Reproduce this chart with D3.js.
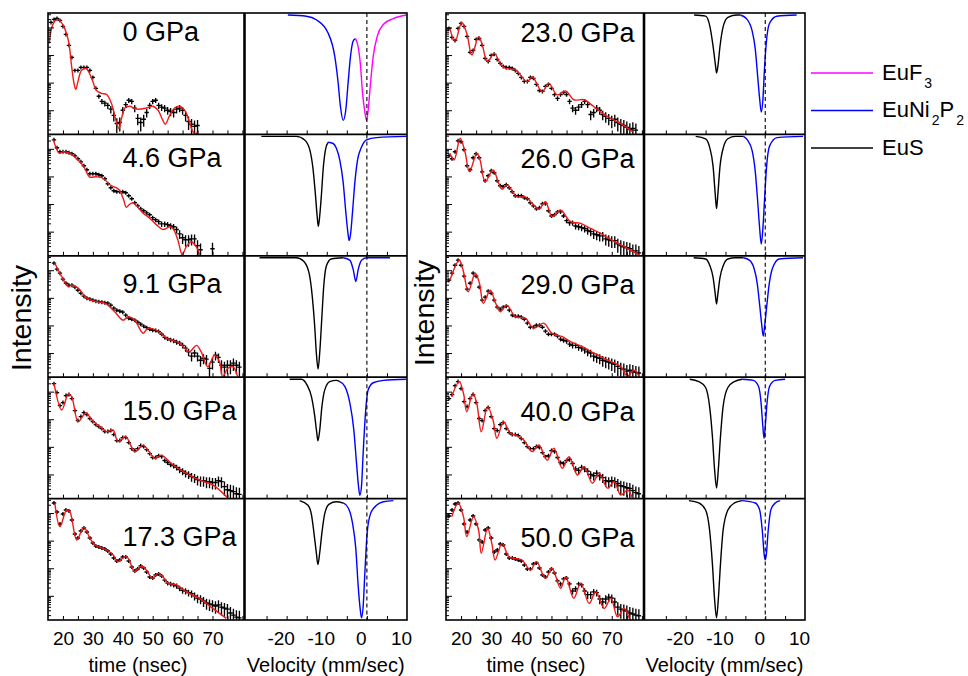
<!DOCTYPE html>
<html>
<head>
<meta charset="utf-8">
<script src="https://cdn.jsdelivr.net/npm/d3@7"></script>
<style>
  body { margin: 0; background: #fff; }
  svg text { font-family: "Liberation Sans", Arial, Helvetica, sans-serif; fill: #000; }
</style>
</head>
<body>
<svg id="chart" width="968" height="676"></svg>
<script>
// ---------- data ----------
const pressureLabels = ["0 GPa", "4.6 GPa", "9.1 GPa", "15.0 GPa", "17.3 GPa",
                        "23.0 GPa", "26.0 GPa", "29.0 GPa", "40.0 GPa", "50.0 GPa"];
const timeTicks = [20, 30, 40, 50, 60, 70];
const velocityTicks = [-20, -10, 0, 10];
const siteNames = ["EuF3", "EuNi2P2", "EuS"];

// Time spectra: delayed counts in 1 ns bins, first bin time (ns) per pressure
const countsStart = [16, 17, 17, 17, 17, 16, 16, 16, 16, 16];
const counts = [
  [15200,19500,21200,18000,10900,5590,2240,822,278,278,357,357,357,278,155,62,32,21,18,15,11,6.5,3.3,3.6,10,16,23,21,12,5.1,3.6,4.7,8.3,15,21,23,15,13,12,10,9,8.3,11,12,10,6.5,3.9,3.1,2.6,2.8],
  [21200,10900,7810,7810,7810,7180,6610,5590,4360,3390,2430,1740,1250,1250,1250,1150,1060,822,542,388,302,278,278,278,256,199,155,111,86,67,57,48,41,32,27,23,19,19,18,16,15,12,8.3,6,5.1,5.1,5.5,5.5,3.1,2.2,null,null,null,2.4],
  [18000,10900,7810,4740,3390,2870,2870,2430,1890,1470,1150,971,893,822,756,725,695,667,640,542,422,357,328,302,235,183,168,155,131,111,94,83,73,67,65,60,48,37,33,30,28,25,23,19,15,11,7.7,10,7.7,5.5,6.5,6,2.8,4.7,8.3,7,3.6,3.1,3.6,3.6,4.3,3.6,3.1],
  [19500,9230,3120,4010,7180,7810,5590,2060,893,1250,1740,1470,1060,822,640,542,458,357,357,388,278,168,168,216,216,143,86,73,86,111,102,79,57,41,41,48,44,32,27,23,21,18,15,13,11,10,8.3,7.7,6.5,6,6,5.5,5.5,5.1,5.1,6,5.5,3.6,2.8,2.6,2.4,2.0,1.9],
  [23100,10900,4010,9230,12900,11900,5590,1740,1250,2240,2870,2060,1250,822,640,589,542,498,422,328,235,183,199,256,256,183,111,79,94,121,102,73,48,44,57,62,52,37,29,27,25,23,19,16,15,13,12,10,8.3,7.7,6.5,5.5,5.1,4.7,4.3,4.7,3.9,3.6,3.3,2.4,2.0,1.7,1.6],
  [9230,4360,3390,9230,14000,10900,4740,1250,1470,3690,4010,2240,756,589,971,1060,695,498,388,357,357,328,278,216,155,111,111,155,143,86,52,48,73,86,62,37,27,37,44,37,21,12,10,13,16,21,16,7,8.3,12,10,7,6,5.1,4.3,4.7,3.6,3.1,2.8,2.4,2.0,2.2,1.9],
  [5590,4360,7810,19500,18000,9230,2430,1740,4740,6610,4740,1470,695,1060,1600,1360,695,458,422,498,388,278,199,199,199,168,155,111,86,67,73,102,102,57,37,41,52,52,37,25,21,21,16,15,14,13,11,10,8.3,7.7,7,7,5.5,5.1,4.7,4.7,3.6,3.1,2.8,2.6,2.4,2.0,2.0,1.7],
  [4360,7810,15200,23100,15200,6080,2060,3390,7810,6080,2430,822,1060,1740,1470,822,458,388,458,498,357,235,216,216,199,168,121,86,86,102,102,86,62,48,48,48,41,32,29,27,21,19,19,16,15,13,11,10,7.7,7,6.5,5.5,5.1,4.7,4.3,3.9,3.3,2.8,2.6,2.2,2.4,2.2,2.0,1.9],
  [5590,7810,16500,23100,12900,4360,2870,5590,7810,4010,1060,893,2060,2640,1250,458,388,640,756,458,328,278,278,256,199,143,102,86,86,102,94,62,44,48,73,67,41,27,25,32,35,25,16,14,18,16,13,10,9,11,9,7.7,6,5.5,6,5.5,4.7,3.9,3.6,3.3,3.1,2.6,2.2,2.0],
  [7810,12900,21200,23100,12900,4010,2060,5590,7810,4010,1060,893,2430,2870,1250,388,458,756,695,328,235,235,216,199,183,131,94,94,143,155,102,57,48,73,94,67,35,27,41,44,27,15,18,27,25,15,11,11,14,13,7.7,6,7.7,9,8.3,6,3.9,3.3,3.1,2.8,2.4,2.2,2.0,1.9]
];

// Fitted time spectra: vertices (time in ns, intensity)
const fitTime = [
  [15.4,16.8,18.4,20.1,21.8,22.9,23.7,24.3,25.1,26.2,27.7,29.6,31.2,32.9,34.6,36.2,37.7,38.7,39.6,40.7,42.3,44.6,47.9,50.1,51.8,53.4,54.2,55.7,57.3,59,60.7,62.1,63.4,64.3,65.1],
  [16.8,18.8,20.1,22.3,25.7,27.3,28.8,31.2,33.4,35.7,38.4,39.2,40.3,41.2,42.1,43.4,45.1,46.8,48.4,51.2,53.4,55.7,56.8,58.4,59.9,61.2,62.9,64.6,65.7],
  [17.3,19.6,21.8,22.9,25.1,27.9,31.2,34,37.3,40.1,41.8,44,46.8,48.4,51.2,54.6,59,62.3,64.6,66.2,68.4,70.7,72.3,73.4,75.1,76.8,78.4],
  [17,19.6,21.8,22.9,25.1,27.7,29.6,32.3,34.6,36.8,38.4,41,44,46.8,48.4,50.7,52.9,56.8,61.2,65.7,70.1,75.1],
  [17.3,19,21.2,22.3,24.6,27,29,30.7,34.6,36.8,38.4,40.7,41.8,44,46.2,47.9,49.9,51.8,53.4,55.1,57.9,61.2,65.7,70.1,74.6],
  [16.3,18,20.2,21.9,23.6,25.8,26.9,28.8,31,33,34.7,38,41.9,43.6,46.9,49.1,51.9,54.7,57.4,60.8,64.1,68.6,73,76.9],
  [16.3,17.7,19.7,21.3,22.8,25.2,26.3,28,30.6,32.5,33.6,35.2,38.6,41.3,44.1,45.8,48,50.2,53,56.3,59.7,63,66.3,70.8,75.2,79.1],
  [16.3,19.4,20.8,22.4,24.7,26.1,27.4,29.7,31.3,33,35.2,38,41.3,44.1,47.4,50.2,53.6,56.3,60.2,64.1,68.6,73,75.2,77.4,79.1],
  [16.9,19.4,20.8,21.9,23.9,25.2,26.7,28.8,30.6,31.9,34.1,36.3,38,40.8,43.6,45.8,48.6,50.8,53.6,55.8,58.6,60.8,63.6,65.8,68.6,70.8,73,75.2,76.9],
  [16.9,19.1,20.8,21.9,24.1,25.8,26.7,28.8,30.2,31.3,33.6,35.8,37.4,40.2,43,45,48,50.2,53,54.7,57.4,59.7,62.5,64.7,67.5,69.7,71.9,74.1,75.8]
];
const fitIntensity = [
  [2640,14000,19500,11850,3390,388,94,57,121,278,328,143,52,41,37,18,4.3,2.2,5.1,12,14,11,12,14,10,4.3,3.1,6.5,12,14,10,4.3,1.7,1.35,1.7],
  [21200,6900,7810,6900,3390,1970,971,971,860,498,357,278,143,76,94,111,76,46,35,18,12,15,13,5.1,1.45,2.8,4.3,2.8,1.45],
  [18000,5830,2530,2870,2240,971,725,640,315,155,207,155,52,79,67,35,23,11.2,19,11.2,3.2,8.3,4.9,1.4,2.8,3.2,1.4],
  [20000,2170,8200,6610,822,1740,935,542,357,405,155,235,67,115,76,38,50,22,11,6.2,4.2,1.4],
  [22500,3220,12900,11200,1060,3070,1220,695,458,302,173,263,229,75,121,86,43,65,49,29,25,14,8.1,3.5,1.53],
  [9230,3070,14800,6080,1000,4580,2640,574,1150,498,328,288,108,164,47,94,36,50,24,24,13.4,5.8,3.3,1.67],
  [6900,3940,24100,7810,1470,6900,3940,640,1710,565,342,488,183,183,92,65,121,35,61,23,20,13,8.7,4.4,2.5,1.42],
  [4360,23100,8850,1670,7810,3390,640,1890,725,315,542,207,183,79,121,51,39,26,17,9.9,5.6,3.2,1.47,2.4,1.39],
  [6550,23100,8720,1870,8720,3800,354,2870,935,205,815,310,270,178,67,116,33,89,16.7,44,9.6,19,4.8,11,3.2,5.5,1.8,2.7,1.37],
  [7370,22500,7370,1400,7370,2430,348,2800,800,199,800,263,229,199,86,173,43,100,18.8,49,8.1,29,5.3,14,3.5,8.1,1.75,3.5,1.53]
];

// Energy-domain spectra: one segment per Eu site (velocity mm/s, relative transmission)
const spectrumSites = [
  ["EuNi2P2", "EuF3"],
  ["EuS", "EuNi2P2"], ["EuS", "EuNi2P2"], ["EuS", "EuNi2P2"], ["EuS", "EuNi2P2"],
  ["EuS", "EuNi2P2"], ["EuS", "EuNi2P2"], ["EuS", "EuNi2P2"], ["EuS", "EuNi2P2"], ["EuS", "EuNi2P2"]
];
const spectrumVelocity = [
  [[-19.7,-15.1,-12.6,-9.7,-8.0,-7.17,-6.6,-5.9,-5.25,-4.67,-4.08,-3.42,-2.83],
   [-2.83,-2.17,-1.58,-1.08,-0.5,-0.08,0.33,0.92,1.58,2.58,4.08,6.58,9.9]],
  [[-26.3,-17.6,-15.5,-14.25,-13.4,-12.8,-12.4,-12.1,-11.75,-11.3,-10.9,-10.3,-9.67],
   [-9.67,-8.4,-7.6,-6.75,-5.9,-5.25,-4.67,-4.42,-4.08,-3.58,-3.0,-2.33,-1.33,-0.08,2.4,9.9]],
  [[-26.75,-17.6,-15.75,-14.4,-13.6,-13.0,-12.6,-12.17,-11.75,-11.25,-10.75,-10.1,-8.9,-5.9],
   [-5.9,-4.25,-3.4,-2.75,-2.17,-1.33,-0.08,5.75]],
  [[-19.25,-16.3,-14.9,-13.8,-13.0,-12.5,-12.2,-11.75,-11.2,-10.5,-9.25,-7.6,-6.75],
   [-6.75,-5.5,-4.25,-3.25,-2.6,-2.1,-1.75,-1.33,-0.92,-0.33,0.33,1.58,4.1,9.75]],
  [[-16.75,-14.67,-13.8,-13.2,-12.6,-12.2,-11.75,-11.2,-10.5,-9.4,-7.6,-5.9],
   [-5.9,-4.67,-3.58,-2.75,-2.17,-1.58,-1.33,-0.92,-0.5,0.08,0.92,2.4,4.1,6.6]],
  [[-17.9,-15,-13.9,-13.1,-12.5,-12.25,-11.9,-11.4,-10.6,-9.4,-7.1,-6.25],
   [-6.25,-4.75,-3.33,-2.5,-1.9,-1.4,-1.0,-0.58,-0.25,0.25,1.08,2.9,7.9]],
  [[-17.5,-15,-14,-13.1,-12.6,-12.25,-11.9,-11.4,-10.5,-9.4,-7.5,-5.5],
   [-5.5,-4.5,-3.3,-2.5,-1.9,-1.4,-1.0,-0.6,-0.2,0.3,1.1,3,9.5]],
  [[-18,-15,-14,-13.1,-12.6,-12.25,-11.9,-11.4,-10.5,-9.4,-7.5,-5.5],
   [-5.5,-4,-2.8,-2.0,-1.4,-0.9,-0.5,-0.1,0.4,1.0,1.8,3.5,9.5]],
  [[-19,-16.7,-15,-14,-13.3,-12.75,-12.25,-11.8,-11.25,-10.6,-9.4,-7.75,-5.8],
   [-5.8,-3,-1.7,-1.05,-0.6,-0.3,0,0.45,1.1,2.5,5]],
  [[-19.2,-16.7,-15,-14,-13.3,-12.75,-12.25,-11.8,-11.25,-10.6,-9.4,-7.75,-5.8],
   [-5.8,-2.5,-1.4,-0.75,-0.25,0,0.25,0.75,1.4,2.5,3.75]]
];
const spectrumTransmission = [
  [[1.00,0.99,0.96,0.85,0.65,0.43,0.23,0.11,0.20,0.43,0.65,0.78,0.80],
   [0.80,0.73,0.57,0.34,0.18,0.11,0.20,0.43,0.65,0.82,0.92,0.97,1.00]],
  [[1.0,1.0,0.97,0.89,0.72,0.50,0.33,0.24,0.33,0.52,0.72,0.89,0.95],
   [0.95,0.94,0.90,0.80,0.61,0.36,0.17,0.12,0.17,0.36,0.61,0.80,0.91,0.97,0.99,1.0]],
  [[1.0,1.0,0.97,0.87,0.67,0.42,0.20,0.06,0.20,0.48,0.76,0.93,0.99,1.0],
   [1.0,0.98,0.90,0.80,0.90,0.98,1.0,1.0]],
  [[1.0,1.0,0.95,0.85,0.69,0.55,0.48,0.57,0.77,0.91,0.98,0.99,0.98],
   [0.98,0.94,0.80,0.57,0.30,0.10,0.02,0.10,0.38,0.72,0.91,0.97,0.99,1.0]],
  [[1.0,0.96,0.88,0.73,0.56,0.46,0.56,0.73,0.89,0.97,0.99,0.98],
   [0.98,0.94,0.81,0.59,0.28,0.06,0.01,0.11,0.39,0.73,0.89,0.96,0.99,1.0]],
  [[1.0,0.99,0.90,0.73,0.57,0.51,0.57,0.73,0.90,0.98,1.0,1.0],
   [1.0,0.97,0.87,0.71,0.48,0.29,0.18,0.29,0.51,0.76,0.93,0.99,1.0]],
  [[1.0,0.98,0.91,0.74,0.52,0.39,0.52,0.74,0.91,0.98,1.0,1.0],
   [1.0,0.97,0.88,0.70,0.45,0.22,0.09,0.22,0.45,0.73,0.92,0.99,1.0]],
  [[1.0,0.99,0.94,0.83,0.70,0.61,0.70,0.83,0.94,0.99,1.0,1.0],
   [1.0,0.98,0.91,0.78,0.60,0.44,0.34,0.44,0.60,0.78,0.91,0.99,1.0]],
  [[1.0,0.98,0.93,0.77,0.52,0.24,0.08,0.24,0.52,0.77,0.93,0.98,1.0],
   [1.0,0.99,0.94,0.80,0.60,0.50,0.60,0.80,0.94,0.99,1.0]],
  [[1.0,0.98,0.92,0.75,0.47,0.17,0.01,0.17,0.47,0.75,0.92,0.98,1.0],
   [1.0,0.98,0.92,0.75,0.54,0.50,0.54,0.75,0.92,0.98,1.0]]
];

// ---------- layout & style ----------
const TOP = 13, BOTTOM = 620, ROWS = 5, ROW_H = (BOTTOM - TOP) / ROWS;
const columns = [
  { left: 48,  split: 244.5, right: 407, intensityX: 30.5,  intensityY: 318 },
  { left: 446, split: 644,   right: 805, intensityX: 433.5, intensityY: 313 }
];
const timeDomain = [15, 80.7];
const intensityDomain = [1.333, 33333];
const velocityDomain = [-30.5, 10];
const siteColor = { EuF3: "#ff00ff", EuNi2P2: "#0000ff", EuS: "#000000" };
const fitColor = "#f21818";

const svg = d3.select("#chart");
const defs = svg.append("defs");

function formulaText(sel, name, size, subSize) {
  name.split(/(\d+)/).filter(s => s.length).forEach(part => {
    if (/^\d+$/.test(part)) {
      sel.append("tspan").attr("font-size", subSize).attr("dx", 2).attr("dy", 8).text(part);
    } else {
      const needsReset = sel.selectAll("tspan").size() > 0;
      sel.append("tspan").attr("font-size", size).attr("dy", needsReset ? -8 : 0).text(part);
    }
  });
}

pressureLabels.forEach((label, p) => {
  const col = columns[Math.floor(p / ROWS)];
  const r = p % ROWS;
  const y0 = TOP + r * ROW_H, y1 = y0 + ROW_H;

  // ----- time-domain panel -----
  const x = d3.scaleLinear().domain(timeDomain).range([col.left, col.split]);
  const y = d3.scaleLog().domain(intensityDomain).range([y1, y0]);
  const clipT = "clip-time-" + p;
  defs.append("clipPath").attr("id", clipT).append("rect")
    .attr("x", col.left).attr("y", y0).attr("width", col.split - col.left).attr("height", ROW_H);
  const tp = svg.append("g").attr("clip-path", `url(#${clipT})`);

  // measured counts with Poisson error bars
  const bins = counts[p].map((c, i) => ({ t: countsStart[p] + i, c })).filter(d => d.c != null);
  const marks = bins.map(d => {
    const cx = x(d.t), cy = y(d.c);
    const s = Math.sqrt(d.c);
    const hi = Math.min(y(d.c + s), cy - 2);
    const lo = Math.max(y(Math.max(d.c - s, 0.4)), cy + 2);
    return `M${cx - 2.2},${cy}H${cx + 2.2}M${cx},${hi}V${lo}`;
  }).join("");
  tp.append("path").attr("d", marks).attr("fill", "none").attr("stroke", "#000").attr("stroke-width", 1.35);

  // fit
  const fitPts = fitTime[p].map((t, i) => [t, fitIntensity[p][i]]);
  tp.append("path")
    .attr("d", d3.line().x(d => x(d[0])).y(d => y(d[1])).curve(d3.curveCatmullRom.alpha(0.5))(fitPts))
    .attr("fill", "none").attr("stroke", fitColor).attr("stroke-width", 1.4);

  // inward ticks: time along the bottom, log intensity along the left
  svg.append("g").attr("transform", `translate(0,${y1})`)
    .call(d3.axisBottom(x).tickValues(d3.range(20, 81, 5)).tickSize(-4).tickFormat(""))
    .call(a => a.select(".domain").remove())
    .call(a => a.selectAll("line").attr("stroke-width", 1));
  const logTicks = y.ticks().filter(v => v > intensityDomain[0] && v < intensityDomain[1]);
  svg.append("g").attr("transform", `translate(${col.left},0)`)
    .call(d3.axisLeft(y).tickValues(logTicks).tickSize(-3).tickFormat(""))
    .call(a => a.select(".domain").remove())
    .call(a => a.selectAll(".tick line")
      .attr("x2", d => Math.abs(Math.log10(d) - Math.round(Math.log10(d))) < 1e-6 ? 6 : 3)
      .attr("stroke-width", 1));

  // pressure label
  svg.append("text")
    .attr("x", col.left + 74.5)
    .attr("y", y0 + 27.5 + r * 5 + (col === columns[1] ? 1 : 0))
    .attr("font-size", 27).text(label);

  // ----- energy-domain panel -----
  const xv = d3.scaleLinear().domain(velocityDomain).range([col.split, col.right]);
  const yv = d3.scaleLinear().domain([0, 1]).range([y1 - 1, y0 + 2]);
  const vp = svg.append("g");
  spectrumSites[p].forEach((site, k) => {
    const pts = spectrumVelocity[p][k].map((v, i) => [v, spectrumTransmission[p][k][i]]);
    vp.append("path")
      .attr("d", d3.line().x(d => xv(d[0])).y(d => yv(d[1])).curve(d3.curveMonotoneX)(pts))
      .attr("fill", "none").attr("stroke", siteColor[site]).attr("stroke-width", 1.4);
  });
  vp.append("line")
    .attr("x1", xv(0)).attr("x2", xv(0)).attr("y1", y0).attr("y2", y1)
    .attr("stroke", "#000").attr("stroke-width", 1.1).attr("stroke-dasharray", "4,3");
  svg.append("g").attr("transform", `translate(0,${y1})`)
    .call(d3.axisBottom(xv).tickValues(d3.range(-25, 10, 5)).tickSize(-4).tickFormat(""))
    .call(a => a.select(".domain").remove())
    .call(a => a.selectAll("line").attr("stroke-width", 1));

  // bottom row: tick labels and axis titles
  if (r === ROWS - 1) {
    svg.append("g").attr("transform", `translate(0,${y1})`)
      .call(d3.axisBottom(x).tickValues(timeTicks).tickSize(0).tickPadding(12))
      .call(a => a.select(".domain").remove())
      .call(a => a.selectAll("text").attr("font-size", 19).attr("font-family", null));
    svg.append("g").attr("transform", `translate(0,${y1})`)
      .call(d3.axisBottom(xv).tickValues(velocityTicks).tickSize(0).tickPadding(12)
        .tickFormat(d => String(d)))
      .call(a => a.select(".domain").remove())
      .call(a => a.selectAll("text").attr("font-size", 19).attr("font-family", null).attr("dx", -6));
    svg.append("text").attr("x", col.left + 90).attr("y", 671.5)
      .attr("text-anchor", "middle").attr("font-size", 20).text("time (nsec)");
    svg.append("text").attr("x", (col.split + col.right) / 2).attr("y", 671.5)
      .attr("text-anchor", "middle").attr("font-size", 20).text("Velocity (mm/sec)");
  }
});

// ----- panel frames -----
columns.forEach(col => {
  const frame = svg.append("g").attr("fill", "none").attr("stroke", "#000");
  frame.append("rect").attr("x", col.left).attr("y", TOP)
    .attr("width", col.right - col.left).attr("height", BOTTOM - TOP).attr("stroke-width", 1.6);
  d3.range(1, ROWS).forEach(r => {
    frame.append("line").attr("x1", col.left).attr("x2", col.right)
      .attr("y1", TOP + r * ROW_H).attr("y2", TOP + r * ROW_H).attr("stroke-width", 1.8);
  });
  frame.append("line").attr("x1", col.split).attr("x2", col.split)
    .attr("y1", TOP).attr("y2", BOTTOM).attr("stroke-width", 2.6);
  svg.append("text")
    .attr("transform", `translate(${col.intensityX},${col.intensityY}) rotate(-90)`)
    .attr("text-anchor", "middle").attr("font-size", 28.5).text("Intensity");
});

// ----- legend -----
siteNames.forEach((site, i) => {
  const ly = 73 + i * 37.5;
  svg.append("line").attr("x1", 811).attr("x2", 873).attr("y1", ly).attr("y2", ly)
    .attr("stroke", siteColor[site]).attr("stroke-width", 1.6);
  const t = svg.append("text").attr("x", 882).attr("y", ly + 6.5);
  formulaText(t, site, 22, 14);
});
</script>
</body>
</html>
